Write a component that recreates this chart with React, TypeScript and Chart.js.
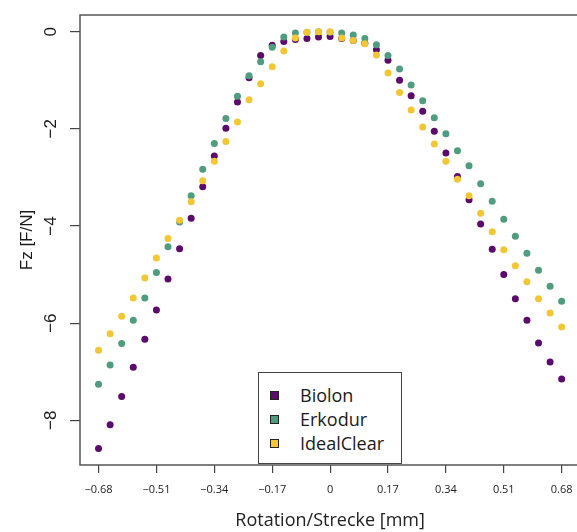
import React, { useEffect, useRef } from "react";
import { Chart, registerables } from "chart.js";

Chart.register(...registerables);

const xPositions = [
  -0.68, -0.646, -0.612, -0.578, -0.544, -0.51, -0.476, -0.442, -0.408, -0.374,
  -0.34, -0.306, -0.272, -0.238, -0.204, -0.17, -0.136, -0.102, -0.068, -0.034,
  0, 0.034, 0.068, 0.102, 0.136, 0.17, 0.204, 0.238, 0.272, 0.306,
  0.34, 0.374, 0.408, 0.442, 0.476, 0.51, 0.544, 0.578, 0.612, 0.646, 0.68,
];

const biolon = [
  -8.58, -8.09, -7.51, -6.91, -6.33, -5.73, -5.09, -4.47, -3.84, -3.19,
  -2.56, -1.99, -1.45, -0.95, -0.49, -0.28, -0.2, -0.16, -0.14, -0.11,
  -0.1, -0.14, -0.18, -0.24, -0.37, -0.59, -1.0, -1.32, -1.64, -2.05,
  -2.5, -2.98, -3.46, -3.96, -4.48, -5.0, -5.5, -5.94, -6.41, -6.8, -7.15,
];

const erkodur = [
  -7.26, -6.86, -6.42, -5.94, -5.48, -4.96, -4.43, -3.92, -3.38, -2.83,
  -2.3, -1.79, -1.33, -0.91, -0.62, -0.32, -0.11, -0.03, -0.01, 0.0,
  -0.01, -0.03, -0.07, -0.14, -0.27, -0.49, -0.77, -1.1, -1.42, -1.77,
  -2.1, -2.45, -2.76, -3.13, -3.49, -3.86, -4.21, -4.56, -4.91, -5.24, -5.55,
];

const idealClear = [
  -6.56, -6.22, -5.86, -5.48, -5.07, -4.66, -4.26, -3.88, -3.5, -3.07,
  -2.67, -2.26, -1.86, -1.4, -1.07, -0.72, -0.4, -0.13, -0.01, 0.0,
  0.0, -0.13, -0.18, -0.25, -0.48, -0.85, -1.25, -1.61, -1.96, -2.31,
  -2.67, -3.04, -3.38, -3.74, -4.12, -4.49, -4.82, -5.15, -5.5, -5.79, -6.08,
];

const seriesNames = ["Biolon", "Erkodur", "IdealClear"];
const seriesColors = ["#5b0b6c", "#4f9d7e", "#f2c733"];

const xTickValues = [-0.68, -0.51, -0.34, -0.17, 0, 0.17, 0.34, 0.51, 0.68];
const xTickLabels = ["\u22120.68", "\u22120.51", "\u22120.34", "\u22120.17", "0", "0.17", "0.34", "0.51", "0.68"];
const yTickValues = [0, -2, -4, -6, -8];
const yTickLabels = ["0", "\u22122", "\u22124", "\u22126", "\u22128"];

const xTitle = "Rotation/Strecke [mm]";
const yTitle = "Fz [F/N]";

const framePlugin = {
  id: "frame",
  afterDraw(chart: any) {
    const { ctx, chartArea } = chart;
    ctx.save();
    ctx.strokeStyle = "#555";
    ctx.lineWidth = 1.5;
    ctx.strokeRect(chartArea.left, chartArea.top, chartArea.right - chartArea.left, chartArea.bottom - chartArea.top);
    ctx.restore();
  },
};

export default function App() {
  const canvasRef = useRef<HTMLCanvasElement | null>(null);

  useEffect(() => {
    const seriesData = [biolon, erkodur, idealClear];
    const datasets = seriesData.map((vals, k) => ({
      label: seriesNames[k],
      data: vals.map((v, i) => ({ x: xPositions[i], y: v })),
      backgroundColor: seriesColors[k],
      borderColor: seriesColors[k],
      borderWidth: 0,
      pointRadius: 3.5,
      pointBorderWidth: 0,
      showLine: false,
      order: 3 - k,
    }));

    const chart = new Chart(canvasRef.current as HTMLCanvasElement, {
      type: "scatter",
      data: { datasets },
      plugins: [framePlugin],
      options: {
        animation: false,
        responsive: false,
        maintainAspectRatio: false,
        layout: { padding: { top: 15, right: 19.8, left: 0, bottom: 0 } },
        plugins: { legend: { display: false }, tooltip: { enabled: false } },
        scales: {
          x: {
            type: "linear",
            min: -0.7344,
            max: 0.7344,
            afterBuildTicks: (scale: any) => {
              scale.ticks = xTickValues.map((v) => ({ value: v }));
            },
            afterFit: (scale: any) => {
              scale.height = 67;
              scale.paddingLeft = 0;
              scale.paddingRight = 0;
            },
            border: { display: false },
            grid: {
              drawOnChartArea: false,
              drawTicks: true,
              tickLength: 8,
              color: "#444",
              lineWidth: 1.2,
            },
            ticks: {
              autoSkip: false,
              maxRotation: 0,
              minRotation: 0,
              padding: 10,
              color: "#222",
              font: { family: "'Open Sans'", size: 11 },
              callback: (_v: any, i: number) => xTickLabels[i],
            },
            title: {
              display: true,
              text: xTitle,
              color: "#222",
              font: { family: "'Open Sans'", size: 18, lineHeight: 1.2 },
              padding: { top: 0, bottom: 0 },
            },
          },
          y: {
            type: "linear",
            min: -8.92,
            max: 0.343,
            afterBuildTicks: (scale: any) => {
              scale.ticks = yTickValues.map((v) => ({ value: v }));
            },
            afterFit: (scale: any) => {
              scale.width = 80;
              scale.paddingTop = 0;
              scale.paddingBottom = 0;
            },
            border: { display: false },
            grid: {
              drawOnChartArea: false,
              drawTicks: true,
              tickLength: 10,
              color: "#444",
              lineWidth: 1.2,
            },
            ticks: {
              autoSkip: false,
              minRotation: 90,
              maxRotation: 90,
              crossAlign: "center",
              padding: 9,
              color: "#1a1a1a",
              font: { family: "'Liberation Sans'", size: 17 },
              callback: (_v: any, i: number) => yTickLabels[i],
            },
            title: {
              display: true,
              text: yTitle,
              color: "#1a1a1a",
              font: { family: "'Liberation Sans'", size: 17, lineHeight: 1.2 },
              padding: { top: 17, bottom: 0 },
            },
          },
        },
      },
    } as any);
    return () => chart.destroy();
  }, []);

  const rowTops = [22, 46, 70];

  return (
    <div style={{ position: "fixed", left: 0, top: 0, width: 577, height: 532, overflow: "hidden", background: "#fff" }}>
      <canvas ref={canvasRef} width={600} height={532} style={{ width: 600, height: 532, display: "block" }} />
      <div
        style={{
          position: "absolute",
          left: 258,
          top: 372,
          width: 144,
          height: 92,
          border: "1.3px solid #444",
          background: "#fff",
          boxSizing: "border-box",
          fontFamily: "'Open Sans', sans-serif",
          fontSize: 18,
          color: "#1a1a1a",
        }}
      >
        {seriesNames.map((name, k) => (
          <div key={name} style={{ position: "absolute", left: 0, top: rowTops[k] - 13, height: 26, display: "flex", alignItems: "center" }}>
            <span
              style={{
                display: "inline-block",
                width: 9,
                height: 9,
                marginLeft: 11,
                background: seriesColors[k],
                border: "1px solid #222",
                boxSizing: "border-box",
              }}
            />
            <span style={{ marginLeft: 21, lineHeight: "26px" }}>{name}</span>
          </div>
        ))}
      </div>
    </div>
  );
}
